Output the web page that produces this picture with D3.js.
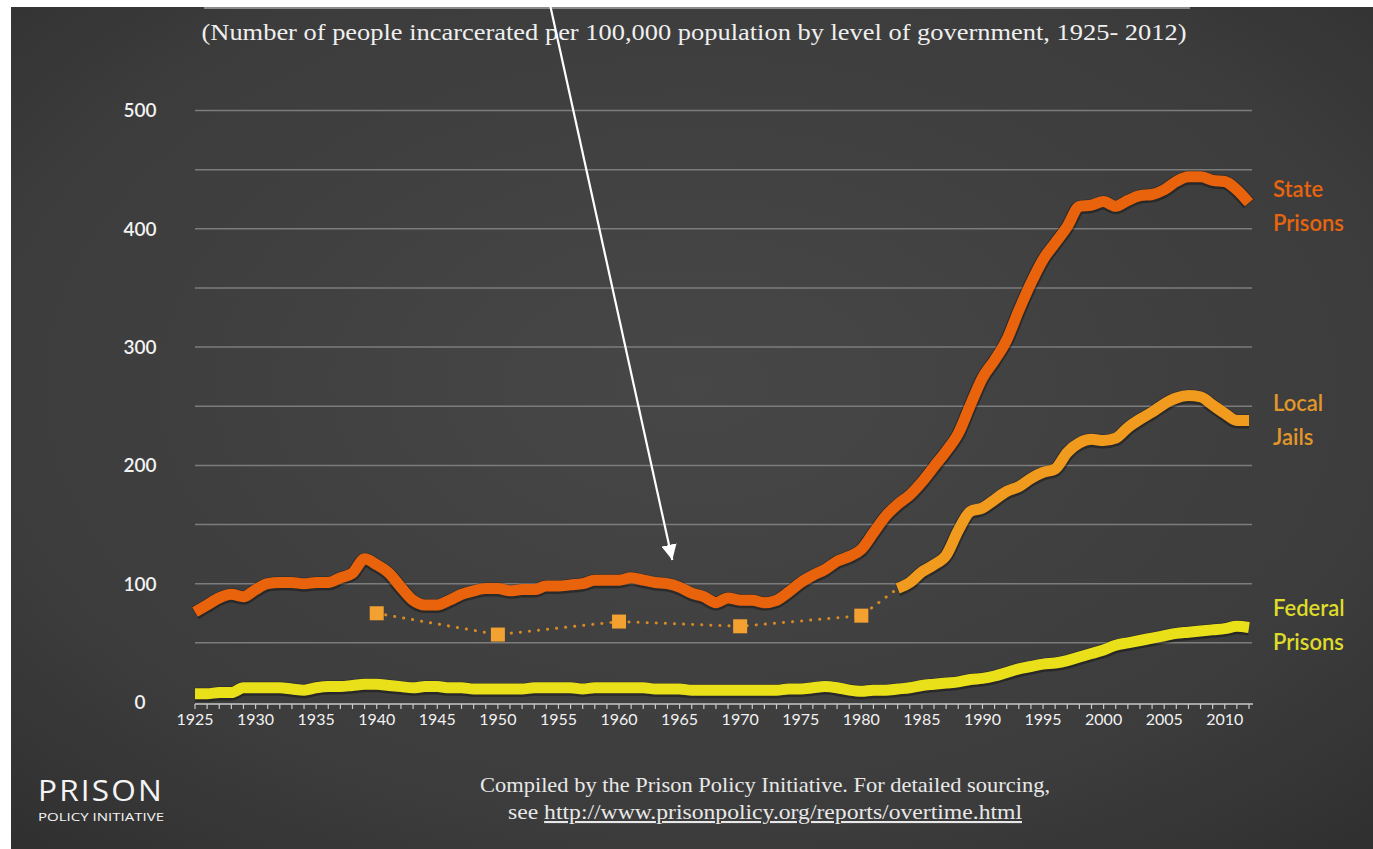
<!DOCTYPE html>
<html>
<head>
<meta charset="utf-8">
<script src="https://cdn.jsdelivr.net/npm/d3@7"></script>
<style>
  html, body { margin: 0; padding: 0; background: #fff; }
  svg { display: block; }
</style>
</head>
<body>
<svg id="chart" width="1373" height="849"></svg>
<script>
// Incarceration rates per 100,000 by level of government, 1925-2012

const years = d3.range(1925, 2013);

const stateRate = [
  76, 82, 88, 91, 89, 95, 100, 101, 101, 100,
  101, 101, 105, 109, 121, 116, 109, 97, 86, 82,
  82, 86, 91, 94, 96, 96, 94, 95, 95, 98,
  98, 99, 100, 103, 103, 103, 105, 103, 101, 100,
  97, 92, 89, 84, 88, 86, 86, 84, 86, 93,
  101, 107, 112, 119, 123, 129, 143, 157, 167, 175,
  186, 199, 212, 227, 251, 274, 289, 306, 331, 354,
  374, 388, 402, 419, 420, 423, 419, 424, 428, 429,
  433, 440, 444, 444, 441, 440, 433, 422
];

const federalRate = [
  7, 7, 8, 8, 12, 12, 12, 12, 11, 10,
  12, 13, 13, 14, 15, 15, 14, 13, 12, 13,
  13, 12, 12, 11, 11, 11, 11, 11, 12, 12,
  12, 12, 11, 12, 12, 12, 12, 12, 11, 11,
  11, 10, 10, 10, 10, 10, 10, 10, 10, 11,
  11, 12, 13, 12, 10, 9, 10, 10, 11, 12,
  14, 15, 16, 17, 19, 20, 22, 25, 28, 30,
  32, 33, 35, 38, 41, 44, 48, 50, 52, 54,
  56, 58, 59, 60, 61, 62, 64, 63
];

// local jails: annual series from 1983, sparse census years before
const jailYears = d3.range(1983, 2013);
const jailRate = [
  96, 101, 110, 116, 124, 145, 161, 164, 171, 178,
  182, 189, 194, 197, 211, 219, 222, 221, 223, 232,
  239, 245, 252, 257, 259, 258, 251, 244, 238, 238
];
const jailCensusYears = [1940, 1950, 1960, 1970, 1980];
const jailCensusRate = [75, 57, 68, 64, 73];

const yTicks = [0, 100, 200, 300, 400, 500];
const xTickYears = d3.range(1925, 2011, 5);

const seriesLabels = [
  {lines: ['State', 'Prisons'], value: 425, color: '#e8650e'},
  {lines: ['Local', 'Jails'], value: 244, color: '#e2972a'},
  {lines: ['Federal', 'Prisons'], value: 71, color: '#dedb2a'}
];

const svg = d3.select('#chart');
const W = 1373, H = 849;

// background with soft vignette
const defs = svg.append('defs');
const grad = defs.append('radialGradient')
  .attr('id', 'bg').attr('cx', '50%').attr('cy', '45%').attr('r', '75%');
grad.append('stop').attr('offset', '0%').attr('stop-color', '#474747');
grad.append('stop').attr('offset', '70%').attr('stop-color', '#3c3c3c');
grad.append('stop').attr('offset', '100%').attr('stop-color', '#2f2f2f');

defs.append('marker')
  .attr('id', 'arrowHead')
  .attr('viewBox', '0 0 10 10')
  .attr('refX', 10).attr('refY', 5)
  .attr('markerWidth', 7).attr('markerHeight', 7)
  .attr('markerUnits', 'strokeWidth')
  .attr('orient', 'auto')
  .append('path')
    .attr('d', 'M0,0 L10,5 L0,10 z')
    .attr('fill', '#fff');

svg.append('rect')
  .attr('x', 11).attr('y', 7)
  .attr('width', W - 11).attr('height', H - 7)
  .attr('fill', 'url(#bg)');

// sliver of cropped header bar
svg.append('rect')
  .attr('x', 204).attr('y', 7)
  .attr('width', 986).attr('height', 2)
  .attr('fill', '#8a8a8a');

const x = d3.scaleLinear().domain([1925, 2012]).range([195, 1249]);
const y = d3.scaleLinear().domain([0, 500]).range([702, 110.5]);

// gridlines every 50
svg.append('g')
  .selectAll('line')
  .data(d3.range(50, 501, 50))
  .join('line')
    .attr('x1', 195).attr('x2', 1252)
    .attr('y1', d => y(d)).attr('y2', d => y(d))
    .attr('stroke', '#7c7c7c')
    .attr('stroke-width', 1.5);

// y labels
svg.append('g')
  .selectAll('text')
  .data(yTicks)
  .join('text')
    .attr('x', 140).attr('y', d => y(d))
    .attr('dy', '0.36em')
    .attr('text-anchor', 'middle')
    .attr('fill', '#f2f2f2')
    .attr('font-family', 'Lato, "DejaVu Sans", sans-serif')
    .attr('font-size', 19)
    .attr('font-weight', 600)
    .text(d => d);

// x axis: baseline with a tick every year
const xAxis = svg.append('g');
xAxis.append('line')
  .attr('x1', 195).attr('x2', 1253)
  .attr('y1', 704).attr('y2', 704)
  .attr('stroke', '#c8c8c8').attr('stroke-width', 1.5);
xAxis.selectAll('line.tick')
  .data(years)
  .join('line')
    .attr('class', 'tick')
    .attr('x1', d => x(d)).attr('x2', d => x(d))
    .attr('y1', 704).attr('y2', 709)
    .attr('stroke', '#c8c8c8').attr('stroke-width', 1.2);
xAxis.selectAll('text')
  .data(xTickYears)
  .join('text')
    .attr('x', d => x(d)).attr('y', 725)
    .attr('text-anchor', 'middle')
    .attr('fill', '#f2f2f2')
    .attr('font-family', 'Lato, "DejaVu Sans", sans-serif')
    .attr('font-size', 16)
    .text(d => d);

const line = d3.line()
  .x(d => x(d[0]))
  .y(d => y(d[1]))
  .curve(d3.curveMonotoneX);

const drawSeries = (data, color, width) => {
  svg.append('path')
    .datum(data)
    .attr('d', line)
    .attr('fill', 'none')
    .attr('stroke', 'rgba(0,0,0,0.35)')
    .attr('stroke-width', width + 3)
    .attr('stroke-linejoin', 'round')
    .attr('transform', 'translate(0,1)');
  svg.append('path')
    .datum(data)
    .attr('d', line)
    .attr('fill', 'none')
    .attr('stroke', color)
    .attr('stroke-width', width)
    .attr('stroke-linejoin', 'round');
};

// federal
drawSeries(years.map((yr, i) => [yr, federalRate[i]]), '#e9e01a', 11);

// local jails: dotted census link then solid annual line
const jailDotted = jailCensusYears.map((yr, i) => [yr, jailCensusRate[i]])
  .concat([[jailYears[0], jailRate[0]]]);
svg.append('path')
  .datum(jailDotted)
  .attr('d', d3.line().x(d => x(d[0])).y(d => y(d[1])))
  .attr('fill', 'none')
  .attr('stroke', '#d98a22')
  .attr('stroke-width', 3)
  .attr('stroke-linecap', 'round')
  .attr('stroke-dasharray', '0.1 9');
svg.append('g')
  .selectAll('rect')
  .data(jailCensusYears.map((yr, i) => [yr, jailCensusRate[i]]))
  .join('rect')
    .attr('x', d => x(d[0]) - 7)
    .attr('y', d => y(d[1]) - 7)
    .attr('width', 14).attr('height', 14)
    .attr('fill', '#f3a232');
drawSeries(jailYears.map((yr, i) => [yr, jailRate[i]]), '#f09a1e', 11);

// state
drawSeries(years.map((yr, i) => [yr, stateRate[i]]), '#e8630c', 11);

// series labels
seriesLabels.forEach(s => {
  const t = svg.append('text')
    .attr('x', 1273)
    .attr('y', y(s.value) - 2)
    .attr('fill', s.color)
    .attr('font-family', 'Lato, "DejaVu Sans", sans-serif')
    .attr('font-size', 22)
    .attr('font-weight', 600);
  s.lines.forEach((ln, i) => {
    t.append('tspan')
      .attr('x', 1273)
      .attr('dy', i === 0 ? 0 : 34)
      .text(ln);
  });
});

// title
svg.append('text')
  .attr('x', 694).attr('y', 40)
  .attr('text-anchor', 'middle')
  .attr('fill', '#efefef')
  .attr('font-family', '"Liberation Serif", "DejaVu Serif", serif')
  .attr('font-size', 23)
  .attr('textLength', 985)
  .attr('lengthAdjust', 'spacingAndGlyphs')
  .text('(Number of people incarcerated per 100,000 population by level of government, 1925- 2012)');

// annotation arrow
svg.append('line')
  .attr('x1', 549).attr('y1', 0)
  .attr('x2', x(1964.4)).attr('y2', y(120))
  .attr('stroke', '#fff')
  .attr('stroke-width', 2.2)
  .attr('marker-end', 'url(#arrowHead)');

// footer
const footFont = '"Liberation Serif", "DejaVu Serif", serif';
svg.append('text')
  .attr('x', 765).attr('y', 792)
  .attr('text-anchor', 'middle')
  .attr('fill', '#e8e8e8')
  .attr('font-family', footFont)
  .attr('font-size', 21)
  .attr('textLength', 570)
  .attr('lengthAdjust', 'spacingAndGlyphs')
  .text('Compiled by the Prison Policy Initiative. For detailed sourcing,');
const foot2 = svg.append('text')
  .attr('x', 765).attr('y', 819)
  .attr('text-anchor', 'middle')
  .attr('fill', '#e8e8e8')
  .attr('font-family', footFont)
  .attr('font-size', 21)
  .attr('textLength', 514)
  .attr('lengthAdjust', 'spacingAndGlyphs');
foot2.append('tspan').text('see ');
foot2.append('tspan')
  .attr('text-decoration', 'underline')
  .text('http://www.prisonpolicy.org/reports/overtime.html');

// logo
const logo = svg.append('g').attr('fill', '#f4f4f4')
  .attr('font-family', '"Open Sans", Lato, sans-serif');
logo.append('text')
  .attr('x', 38).attr('y', 801)
  .attr('font-size', 29)
  .attr('letter-spacing', 2)
  .attr('textLength', 126)
  .attr('lengthAdjust', 'spacingAndGlyphs')
  .text('PRISON');
logo.append('text')
  .attr('x', 38).attr('y', 821)
  .attr('font-size', 10)
  .attr('textLength', 126)
  .attr('lengthAdjust', 'spacingAndGlyphs')
  .text('POLICY INITIATIVE');
</script>
</body>
</html>
